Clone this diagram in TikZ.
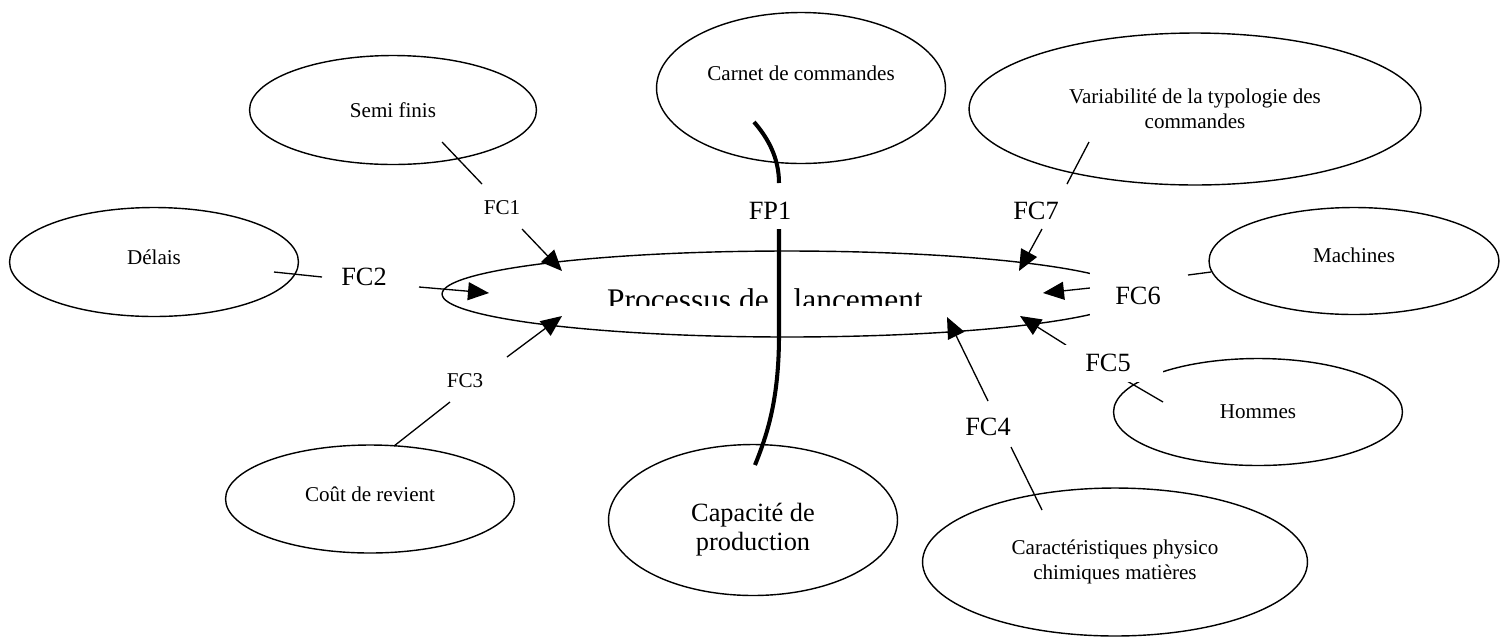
\documentclass[tikz,border=0pt]{standalone}
\usepackage{fontspec}
\setmainfont{Liberation Serif}
\usetikzlibrary{arrows.meta,shapes.geometric}

\begin{document}
\begin{tikzpicture}[x=0.02cm, y=-0.02cm,
  >={Triangle[length=4.2mm, width=3.6mm]},
  blob/.style={ellipse, draw, line width=0.8pt, inner sep=0pt, align=center,
               font=\fontsize{12}{14}\selectfont},
  tag/.style={inner sep=0pt, font=\fontsize{15}{17}\selectfont},
  tagsm/.style={inner sep=0pt, font=\fontsize{12}{14}\selectfont},
  link/.style={line width=0.75pt},
  flow/.style={->, line width=0.75pt},
  prim/.style={line width=2.3pt},
]
\useasboundingbox (0,0) rectangle (1511,637);
% surrounding elements
\node[blob, minimum width=5.74cm, minimum height=2.18cm] (semi) at (393,110) {Semi finis};
\node[blob, minimum width=5.78cm, minimum height=2.18cm, text depth=0.2cm] (delais) at (154,262) {Délais};
\node[blob, minimum width=5.78cm, minimum height=3.02cm, text depth=0.6cm] (carnet) at (801,88) {Carnet de commandes};
\node[blob, minimum width=9.04cm, minimum height=3.04cm] (variab) at (1195,109)
  {Variabilité de la typologie des\\commandes};
\node[blob, minimum width=5.8cm, minimum height=2.14cm, text depth=0.24cm] (mach) at (1354,261) {Machines};
\node[blob, minimum width=5.78cm, minimum height=2.14cm] (hommes) at (1258,412) {Hommes};
\node[blob, minimum width=7.7cm, minimum height=2.96cm] (caract) at (1115,562)
  {Caractéristiques physico\\chimiques matières};
\node[blob, minimum width=5.78cm, minimum height=3.02cm, font=\fontsize{15}{16.5}\selectfont] (capac) at (753,520)
  {\rule{0pt}{0.75cm}Capacité de\\production};
\node[blob, minimum width=5.78cm, minimum height=2.16cm, text depth=0.2cm] (cout) at (370,499) {Coût de revient};
% the process
\node[blob, minimum width=13.8cm, minimum height=1.72cm] (proc) at (787,294) {};
\begin{scope}
  \clip (600,270) rectangle (940,305);
  \node[inner sep=0pt, anchor=base, font=\fontsize{17.9}{20}\selectfont] (proctxt) at (765,310)
    {Processus de\hspace{0.79em}lancement};
\end{scope}
% FP1
\coordinate (fpa) at (754,122);
\coordinate (fpb) at (779,183);
\coordinate (fpc) at (779,229);
\coordinate (fpd) at (755,465);
\draw[prim] (fpa) .. controls (768,138) and (779,158) .. (fpb);
\draw[prim] (fpc) -- (779,335) .. controls (779,400) and (767,435) .. (fpd);
% FC1 .. FC7
\coordinate (s1) at (442,142);  \coordinate (e1) at (482,184);
\coordinate (o1) at (522,229);  \coordinate (t1) at (562,271);
\coordinate (s2) at (274,272);  \coordinate (e2) at (322,277);
\coordinate (o2) at (419,287);  \coordinate (t2) at (489,293);
\coordinate (s3) at (394,446);  \coordinate (e3) at (450,402);
\coordinate (o3) at (507,357);  \coordinate (t3) at (562,316);
\coordinate (s4) at (1042,510); \coordinate (e4) at (1011,447);
\coordinate (o4) at (988,401);  \coordinate (t4) at (947,317);
\coordinate (s5) at (1163,402); \coordinate (e5) at (1127,381);
\coordinate (o5) at (1066,345); \coordinate (t5) at (1020,316);
\coordinate (s6) at (1211,272); \coordinate (e6) at (1188,275);
\coordinate (o6) at (1090,288); \coordinate (t6) at (1043,293);
\coordinate (s7) at (1089,142); \coordinate (e7) at (1067,184);
\coordinate (o7) at (1042,229); \coordinate (t7) at (1019,271);
\foreach \k in {1,...,7} {
  \draw[link] (s\k) -- (e\k);
  \draw[flow] (o\k) -- (t\k);
}
% labels
\node[tagsm] (fc1) at (502,208) {FC1};
\node[tag] (fc2) at (364,277) {FC2};
\node[tagsm] (fc3) at (465,381) {FC3};
\node[tag] (fc4) at (988,427) {FC4};
\node[tag, fill=white, minimum width=2.2cm, minimum height=0.74cm] (fc5) at (1108,363) {FC5};
\node[tag, fill=white, minimum width=1.94cm, minimum height=1.12cm] (fc6) at (1138,296) {FC6};
\node[tag] (fc7) at (1036,211) {FC7};
\node[tag] (fp1) at (770,211) {FP1};
\end{tikzpicture}
\end{document}
